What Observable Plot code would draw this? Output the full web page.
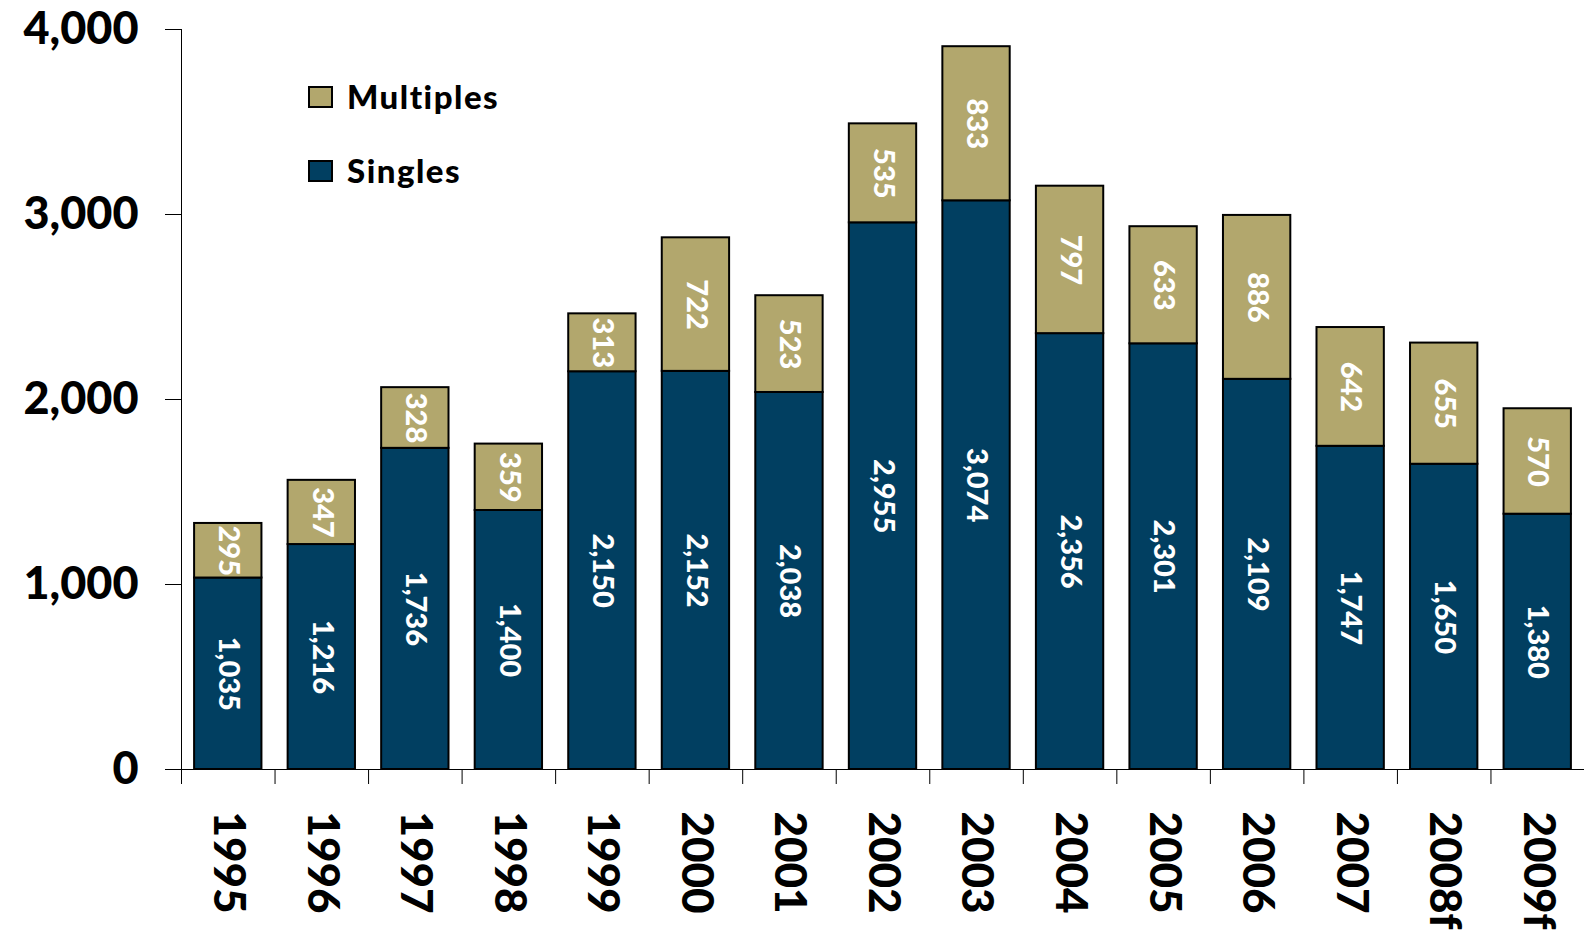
<!DOCTYPE html>
<html>
<head>
<meta charset="utf-8">
<script src="https://cdn.jsdelivr.net/npm/d3@7"></script>
<script src="https://cdn.jsdelivr.net/npm/@observablehq/plot@0.6"></script>
<style>
  html, body { margin: 0; padding: 0; background: #fff; }
  #wrap { position: relative; width: 1584px; height: 937px; font-family: Lato, "Open Sans", sans-serif; }
  #wrap svg { display: block; }
  .legend { position: absolute; left: 308px; top: 0; font-weight: 900; font-size: 33px; letter-spacing: 1.5px; color: #000; }
  .legend .item { position: absolute; left: 0; white-space: nowrap; display: flex; align-items: center; line-height: 1; }
  .legend .sw { width: 21px; height: 18px; border: 2px solid #000; margin-right: 14px; }
</style>
</head>
<body>
<div id="wrap"></div>
<script>
const years = ["1995","1996","1997","1998","1999","2000","2001","2002","2003","2004","2005","2006","2007","2008f","2009f"];
const singles = [1035,1216,1736,1400,2150,2152,2038,2955,3074,2356,2301,2109,1747,1650,1380];
const multiples = [295,347,328,359,313,722,523,535,833,797,633,886,642,655,570];
const seriesNames = ["Singles","Multiples"];
const seriesColors = ["#013f61","#b2a76d"];
const yTicks = [0,1000,2000,3000,4000];

const data = [];
seriesNames.forEach((s, si) => {
  const vals = si === 0 ? singles : multiples;
  years.forEach((y, i) => data.push({year: y, type: s, value: vals[i]}));
});

const W = 1584, H = 937;
const mL = 181, mR = 0, mT = 29, mB = 168;
const step = (W - mL - mR) / years.length;
const fmt = d3.format(",");

const chart = Plot.plot({
  width: W, height: H,
  marginLeft: mL, marginRight: mR, marginTop: mT, marginBottom: mB,
  style: {fontFamily: "Lato, 'Open Sans', sans-serif", background: "#fff"},
  x: {domain: years, paddingInner: 0.28, paddingOuter: 0.14, round: false, axis: null, label: null},
  y: {domain: [0, 4000], axis: null, label: null},
  color: {domain: seriesNames, range: seriesColors},
  marks: [
    Plot.barY(data, Plot.stackY({x: "year", y: "value", z: "type", fill: "type", stroke: "#000", strokeWidth: 2})),
    Plot.text(data, Plot.stackY({x: "year", y: "value", z: "type", text: d => fmt(d.value), rotate: 90, fill: "#fff", fontSize: 29, fontWeight: 900, lineAnchor: "middle", textAnchor: "middle"})),
    Plot.frame({anchor: "left", stroke: "#000", strokeWidth: 1}),
    Plot.frame({anchor: "bottom", stroke: "#000", strokeWidth: 1}),
    Plot.axisY({ticks: yTicks, label: null, tickSize: 16, tickPadding: 27, tickFormat: fmt, fontSize: 45, fontWeight: 900, stroke: "#000", fill: "#000"}),
    Plot.axisX({tickSize: 15, text: null, label: null, dx: -step / 2, stroke: "#000"}),
    Plot.text(years, {x: d => d, y: () => 0, text: d => d, rotate: 90, textAnchor: "start", lineAnchor: "middle", dy: 42, fontSize: 44, fontWeight: 900, fill: "#000"})
  ]
});

const wrap = document.getElementById("wrap");
wrap.appendChild(chart);

const legend = document.createElement("div");
legend.className = "legend";
const legendItems = [{name: "Multiples", color: seriesColors[1], top: 80}, {name: "Singles", color: seriesColors[0], top: 154}];
legendItems.forEach(it => {
  const d = document.createElement("div");
  d.className = "item";
  d.style.top = it.top + "px";
  const sw = document.createElement("span");
  sw.className = "sw";
  sw.style.background = it.color;
  d.appendChild(sw);
  d.appendChild(document.createTextNode(it.name));
  legend.appendChild(d);
});
wrap.appendChild(legend);
</script>
</body>
</html>
